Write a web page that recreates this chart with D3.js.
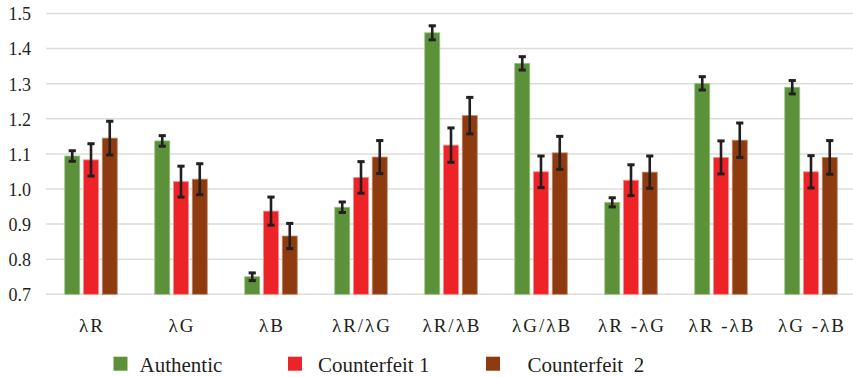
<!DOCTYPE html>
<html>
<head>
<meta charset="utf-8">
<script src="https://cdn.jsdelivr.net/npm/d3@7/dist/d3.min.js"></script>
<style>
  html, body { margin: 0; padding: 0; background: #fff; }
  svg { display: block; }
</style>
</head>
<body>
<svg id="chart" width="853" height="377" font-family="Liberation Serif"></svg>
<script>
// Categories (spectral features) and series
const categories = ["λR", "λG", "λB", "λR/λG", "λR/λB", "λG/λB", "λR -λG", "λR -λB", "λG -λB"];
const seriesNames = ["Authentic", "Counterfeit 1", "Counterfeit  2"];
const seriesColors = ["#5b9139", "#ed2327", "#8f3b10"];
const seriesStroke = ["#9cbf86", "#f58c8c", "#c0866a"];

// Mean values per series
const authentic    = [1.094, 1.137, 0.750, 0.948, 1.445, 1.358, 0.962, 1.301, 1.290];
const counterfeit1 = [1.083, 1.021, 0.937, 1.033, 1.125, 1.049, 1.025, 1.090, 1.049];
const counterfeit2 = [1.145, 1.028, 0.866, 1.091, 1.209, 1.103, 1.048, 1.139, 1.090];

// Standard deviations (error bars)
const authenticErr    = [0.015, 0.015, 0.011, 0.015, 0.020, 0.019, 0.013, 0.019, 0.019];
const counterfeit1Err = [0.046, 0.044, 0.040, 0.045, 0.049, 0.045, 0.044, 0.047, 0.046];
const counterfeit2Err = [0.048, 0.044, 0.036, 0.047, 0.052, 0.047, 0.046, 0.049, 0.048];

const yTicks = [0.7, 0.8, 0.9, 1.0, 1.1, 1.2, 1.3, 1.4, 1.5];

const values = [authentic, counterfeit1, counterfeit2];
const errors = [authenticErr, counterfeit1Err, counterfeit2Err];

const FONT = "Liberation Serif";
const INK = "#231f20";

const svg = d3.select("#chart");
const W = 853;
const plot = { left: 46, right: 856, top: 13.5, bottom: 294.3 };

const x = d3.scaleBand().domain(categories).range([plot.left, plot.right]).paddingInner(0).paddingOuter(0);
const xs = d3.scaleBand().domain(d3.range(3)).range([x.bandwidth() / 2 - 30, x.bandwidth() / 2 + 30]).padding(0.2);
const y = d3.scaleLinear().domain([0.7, 1.5]).range([plot.bottom, plot.top]);

// Gridlines
svg.append("g").selectAll("line").data(yTicks).join("line")
  .attr("x1", plot.left).attr("x2", W)
  .attr("y1", d => y(d)).attr("y2", d => y(d))
  .attr("stroke", "#dcdcdc").attr("stroke-width", 1.5);

// Y axis labels
const yAxis = d3.axisLeft(y).tickValues(yTicks).tickFormat(d3.format(".1f")).tickSize(0).tickPadding(0);
const gy = svg.append("g").attr("transform", "translate(31,0)").call(yAxis)
  .attr("font-family", FONT).attr("font-size", 18);
gy.select(".domain").remove();
gy.selectAll("text")
  .attr("font-family", FONT).attr("font-size", 18).attr("fill", INK)
  .attr("dy", "0.35em");

// X axis labels
const xAxis = d3.axisBottom(x).tickSize(0).tickPadding(0);
const gx = svg.append("g").attr("transform", "translate(0,331.5)").call(xAxis)
  .attr("font-family", FONT).attr("font-size", 19);
gx.select(".domain").remove();
gx.selectAll("text")
  .attr("font-family", FONT).attr("font-size", 19).attr("fill", INK)
  .attr("letter-spacing", 2)
  .attr("dx", 1)
  .attr("dy", 0);

// Bars with error bars
const groups = svg.append("g").selectAll("g").data(categories).join("g")
  .attr("transform", d => `translate(${x(d)},0)`);

groups.each(function(cat, ci) {
  const g = d3.select(this);
  for (let s = 0; s < 3; s++) {
    const v = values[s][ci];
    const e = errors[s][ci];
    const bx = xs(s);
    const bw = xs.bandwidth();
    g.append("rect")
      .attr("x", bx).attr("y", y(v))
      .attr("width", bw).attr("height", y(0.7) - y(v))
      .attr("fill", seriesColors[s])
      .attr("stroke", seriesStroke[s]).attr("stroke-width", 0.8);
    const cx = bx + bw / 2;
    g.append("line")
      .attr("x1", cx).attr("x2", cx)
      .attr("y1", y(v + e)).attr("y2", y(v - e))
      .attr("stroke", INK).attr("stroke-width", 2.6);
    [v + e, v - e].forEach(t => {
      g.append("line")
        .attr("x1", cx - 3.6).attr("x2", cx + 3.6)
        .attr("y1", y(t)).attr("y2", y(t))
        .attr("stroke", INK).attr("stroke-width", 3);
    });
  }
});

// Legend
const legendX = [113.5, 288, 486];
const legendTextX = [139.5, 318, 527.5];
const legend = svg.append("g");
seriesNames.forEach((name, i) => {
  legend.append("rect")
    .attr("x", legendX[i]).attr("y", 356.7)
    .attr("width", 14).attr("height", 14)
    .attr("fill", seriesColors[i]);
  legend.append("text")
    .attr("x", legendTextX[i]).attr("y", 372.3)
    .attr("font-family", FONT).attr("font-size", 21).attr("fill", INK)
    .attr("xml:space", "preserve")
    .text(name);
});
</script>
</body>
</html>
